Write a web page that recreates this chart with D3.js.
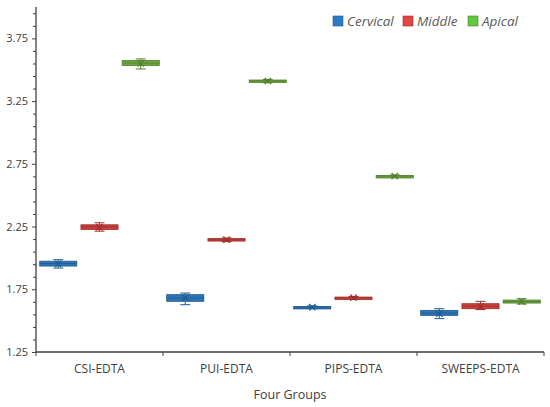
<!DOCTYPE html>
<html lang="en">
<head>
<meta charset="UTF-8">
<title>Four Groups box plot</title>
<script src="https://d3js.org/d3.v7.min.js"></script>
<style>
    body { margin: 0; background: #fff; }
    svg text { font-family: "Open Sans", "Liberation Sans", sans-serif; }
</style>
</head>
<body>
<div id="chart"></div>
<script>
    // categories and series
    const groups = ['CSI-EDTA', 'PUI-EDTA', 'PIPS-EDTA', 'SWEEPS-EDTA'];
    const series = ['Cervical', 'Middle', 'Apical'];

    // box statistics, rows = series (Cervical, Middle, Apical), columns = groups
    const minVals = [
        [1.919, 1.627, 1.596, 1.516],
        [2.213, 2.130, 1.672, 1.588],
        [3.506, 3.396, 2.643, 1.632]
    ];
    const q1Vals = [
        [1.935, 1.654, 1.601, 1.542],
        [2.227, 2.135, 1.676, 1.595],
        [3.533, 3.401, 2.647, 1.640]
    ];
    const medianVals = [
        [1.955, 1.680, 1.607, 1.560],
        [2.247, 2.145, 1.682, 1.615],
        [3.553, 3.410, 2.652, 1.652]
    ];
    const q3Vals = [
        [1.974, 1.707, 1.613, 1.582],
        [2.264, 2.154, 1.688, 1.635],
        [3.573, 3.418, 2.657, 1.664]
    ];
    const maxVals = [
        [1.986, 1.720, 1.618, 1.595],
        [2.280, 2.158, 1.692, 1.654],
        [3.586, 3.423, 2.661, 1.675]
    ];
    const meanVals = [
        [1.952, 1.682, 1.607, 1.555],
        [2.245, 2.145, 1.683, 1.612],
        [3.550, 3.410, 2.652, 1.654]
    ];

    // y-axis ticks
    const majorTicks = [1.25, 1.75, 2.25, 2.75, 3.25, 3.75];
    const minorTicks = [1.35, 1.45, 1.55, 1.65, 1.85, 1.95, 2.05, 2.15, 2.35, 2.45, 2.55, 2.65,
                        2.85, 2.95, 3.05, 3.15, 3.35, 3.45, 3.55, 3.65, 3.85, 3.95];

    const boxColors = ['#2e75b6', '#c9413c', '#6ea740'];
    const boxStrokes = ['#1f5a8f', '#9e2f2b', '#517e2c'];
    const legendColors = ['#2b7cc4', '#e04744', '#61c83f'];

    const margin = { top: 7, right: 6, bottom: 55, left: 36 };
    const totalWidth = 550, totalHeight = 407;
    const width = totalWidth - margin.left - margin.right;
    const height = totalHeight - margin.top - margin.bottom;

    const svg = d3.select('#chart')
        .append('svg')
        .attr('width', totalWidth)
        .attr('height', totalHeight)
        .append('g')
        .attr('transform', `translate(${margin.left}, ${margin.top})`);

    const xScale = d3.scaleBand()
        .domain(groups)
        .range([0, width]);

    const xInner = d3.scaleBand()
        .domain(series)
        .range([0, xScale.bandwidth()])
        .paddingInner(0.1)
        .paddingOuter(0.09);

    const yScale = d3.scaleLinear()
        .domain([1.25, 4.0])
        .range([height, 0]);

    // Y axis: minor ticks, then major ticks with labels
    svg.append('g')
        .attr('class', 'y-minor')
        .call(d3.axisLeft(yScale).tickValues(minorTicks).tickSize(3).tickFormat(''))
        .call(g => g.select('.domain').remove())
        .selectAll('line').attr('stroke', '#404040');

    const yAxis = svg.append('g')
        .call(d3.axisLeft(yScale).tickValues(majorTicks).tickSize(4).tickPadding(4)
            .tickFormat(d3.format('.2f')));
    yAxis.select('.domain').attr('stroke', '#404040').attr('stroke-width', 1.3)
        .attr('d', `M0,${yScale(1.25)}V${yScale(4.0)}`);
    yAxis.selectAll('line').attr('stroke', '#404040');
    yAxis.selectAll('text').attr('font-size', 11).attr('fill', '#404040');

    // X axis with ticks at category boundaries
    const xAxis = svg.append('g')
        .attr('transform', `translate(0, ${height})`);
    xAxis.append('line')
        .attr('x1', 0).attr('x2', width)
        .attr('stroke', '#404040').attr('stroke-width', 1.3);
    xAxis.selectAll('.xtick')
        .data(groups.concat(['end']))
        .join('line')
        .attr('class', 'xtick')
        .attr('x1', (d, i) => i < groups.length ? xScale(d) : width)
        .attr('x2', (d, i) => i < groups.length ? xScale(d) : width)
        .attr('y1', 0).attr('y2', 4)
        .attr('stroke', '#404040');
    xAxis.selectAll('.xlabel')
        .data(groups)
        .join('text')
        .attr('class', 'xlabel')
        .attr('x', d => xScale(d) + xScale.bandwidth() / 2)
        .attr('y', 21)
        .attr('text-anchor', 'middle')
        .attr('font-size', 12)
        .attr('fill', '#404040')
        .text(d => d);

    svg.append('text')
        .attr('x', width / 2)
        .attr('y', height + 47)
        .attr('text-anchor', 'middle')
        .attr('font-size', 12.5)
        .attr('fill', '#404040')
        .text('Four Groups');

    // Boxes
    const boxes = [];
    series.forEach((s, si) => {
        groups.forEach((g, gi) => {
            boxes.push({
                series: s, si: si, group: g,
                min: minVals[si][gi], q1: q1Vals[si][gi], median: medianVals[si][gi],
                q3: q3Vals[si][gi], max: maxVals[si][gi], mean: meanVals[si][gi]
            });
        });
    });

    const boxG = svg.selectAll('.box')
        .data(boxes)
        .join('g')
        .attr('class', 'box')
        .attr('transform', d => `translate(${xScale(d.group) + xInner(d.series)}, 0)`);

    const bw = xInner.bandwidth();
    const capW = 10;

    // whiskers
    boxG.append('line')
        .attr('x1', bw / 2).attr('x2', bw / 2)
        .attr('y1', d => yScale(d.min)).attr('y2', d => yScale(d.max))
        .attr('stroke', d => boxStrokes[d.si]).attr('stroke-width', 1);
    boxG.selectAll('.cap')
        .data(d => [{ v: d.min, si: d.si }, { v: d.max, si: d.si }])
        .join('line')
        .attr('class', 'cap')
        .attr('x1', bw / 2 - capW / 2).attr('x2', bw / 2 + capW / 2)
        .attr('y1', d => yScale(d.v)).attr('y2', d => yScale(d.v))
        .attr('stroke', d => boxStrokes[d.si]).attr('stroke-width', 1);

    // box
    boxG.append('rect')
        .attr('x', 0)
        .attr('width', bw)
        .attr('y', d => yScale(d.q3))
        .attr('height', d => Math.max(2.5, yScale(d.q1) - yScale(d.q3)))
        .attr('fill', d => boxColors[d.si])
        .attr('stroke', d => boxStrokes[d.si])
        .attr('stroke-width', 0.8);

    // median
    boxG.append('line')
        .attr('x1', 0).attr('x2', bw)
        .attr('y1', d => yScale(d.median)).attr('y2', d => yScale(d.median))
        .attr('stroke', d => boxStrokes[d.si]).attr('stroke-width', 0.8);

    // mean marker
    boxG.append('path')
        .attr('d', d3.symbol().type(d3.symbolX).size(28)())
        .attr('transform', d => `translate(${bw / 2}, ${yScale(d.mean)})`)
        .attr('fill', 'none')
        .attr('stroke', d => boxStrokes[d.si])
        .attr('stroke-width', 1.2);

    // Legend
    const legendX = [297, 367, 432];
    const legend = svg.append('g')
        .attr('transform', `translate(0, ${21 - margin.top})`);
    const items = legend.selectAll('.legend-item')
        .data(series)
        .join('g')
        .attr('class', 'legend-item')
        .attr('transform', (d, i) => `translate(${legendX[i]}, 0)`);
    items.append('rect')
        .attr('x', 0).attr('y', -5)
        .attr('width', 10).attr('height', 10)
        .attr('fill', (d, i) => legendColors[i])
        .attr('stroke', (d, i) => boxStrokes[i])
        .attr('stroke-width', 0.6);
    items.append('text')
        .attr('x', 14)
        .attr('y', 5)
        .attr('font-size', 13.5)
        .attr('font-style', 'italic')
        .attr('fill', '#595959')
        .text(d => d);
</script>
</body>
</html>
